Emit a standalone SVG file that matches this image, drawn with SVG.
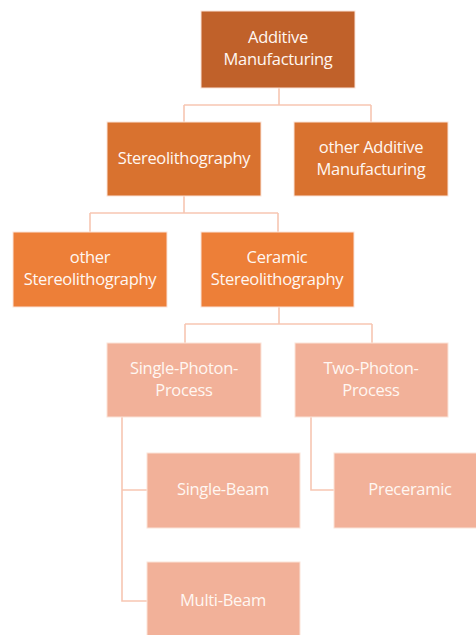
<svg xmlns="http://www.w3.org/2000/svg" width="476" height="635" viewBox="0 0 476 635">
  <style>
    .box { stroke: #fbe3d8; stroke-width: 1; }
    .l1 { fill: #c0612a; }
    .l2 { fill: #d9722f; }
    .l3 { fill: #ed7f38; }
    .l4 { fill: #f2b199; }
    .lbl { font-family: "Open Sans", "Noto Sans", "Liberation Sans", sans-serif; font-size: 16.5px; fill: #fff7f2; text-anchor: middle; letter-spacing: -0.3px; }
    .wire { fill: none; stroke: #f7c6b2; stroke-width: 1.6; }
  </style>
  <rect width="476" height="635" fill="#ffffff"/>

  <g id="connectors">
    <path class="wire" d="M279 88 V105 M184 105 H371 M184 105 V122 M371 105 V122"/>
    <path class="wire" d="M184 196 V213 M90 213 H278 M90 213 V232 M278 213 V232"/>
    <path class="wire" d="M279 307 V324 M185 324 H372 M185 324 V343 M372 324 V343"/>
    <path class="wire" d="M122 417 V601 H147 M122 490 H147"/>
    <path class="wire" d="M311 417 V490 H334"/>
  </g>

  <g id="additive-manufacturing">
    <rect class="box l1" x="201" y="11" width="154" height="77"/>
    <text class="lbl" x="278" y="43">Additive</text>
    <text class="lbl" x="278" y="65">Manufacturing</text>
  </g>
  <g id="stereolithography">
    <rect class="box l2" x="107" y="122" width="154" height="74"/>
    <text class="lbl" x="184" y="164">Stereolithography</text>
  </g>
  <g id="other-additive-manufacturing">
    <rect class="box l2" x="294" y="122" width="154" height="74"/>
    <text class="lbl" x="371" y="153">other Additive</text>
    <text class="lbl" x="371" y="175">Manufacturing</text>
  </g>
  <g id="other-stereolithography">
    <rect class="box l3" x="13" y="232" width="154" height="75"/>
    <text class="lbl" x="90" y="263">other</text>
    <text class="lbl" x="90" y="285">Stereolithography</text>
  </g>
  <g id="ceramic-stereolithography">
    <rect class="box l3" x="201" y="232" width="153" height="75"/>
    <text class="lbl" x="277" y="263">Ceramic</text>
    <text class="lbl" x="277" y="285">Stereolithography</text>
  </g>
  <g id="single-photon-process">
    <rect class="box l4" x="107" y="343" width="154" height="74"/>
    <text class="lbl" x="184" y="374">Single-Photon-</text>
    <text class="lbl" x="184" y="396">Process</text>
  </g>
  <g id="two-photon-process">
    <rect class="box l4" x="295" y="343" width="153" height="74"/>
    <text class="lbl" x="371" y="374">Two-Photon-</text>
    <text class="lbl" x="371" y="396">Process</text>
  </g>
  <g id="single-beam">
    <rect class="box l4" x="147" y="453" width="153" height="75"/>
    <text class="lbl" x="223" y="495">Single-Beam</text>
  </g>
  <g id="preceramic">
    <rect class="box l4" x="334" y="453" width="154" height="75"/>
    <text class="lbl" x="410" y="495">Preceramic</text>
  </g>
  <g id="multi-beam">
    <rect class="box l4" x="147" y="562" width="153" height="80"/>
    <text class="lbl" x="223" y="606">Multi-Beam</text>
  </g>
</svg>
